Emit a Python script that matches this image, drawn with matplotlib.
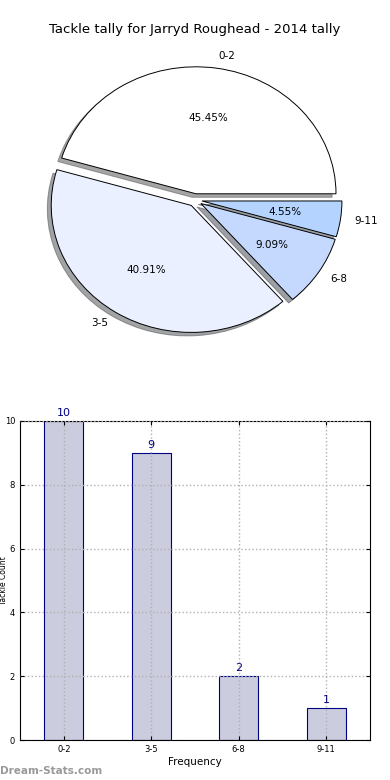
import matplotlib
matplotlib.use("Agg")
import matplotlib.pyplot as plt

labels = ["0-2", "3-5", "6-8", "9-11"]
counts = [10, 9, 2, 1]
pie_colors = ["#ffffff", "#eaf0ff", "#c5d9ff", "#b4d4ff"]

fig = plt.figure(figsize=(3.9, 7.8), dpi=100)

# pie (old-style, not equal aspect)
ax1 = fig.add_axes([20/390, 0.54, 350/390, 0.407])
wedges, texts, autotexts = ax1.pie(counts, labels=labels, colors=pie_colors,
                                   explode=[0.05]*4, shadow=True, autopct="%1.2f%%",
                                   wedgeprops=dict(edgecolor="black", linewidth=0.7),
                                   textprops=dict(fontsize=7.5))
ax1.set_aspect("auto")
ax1.set_xlim(-1.25, 1.25)
ax1.set_ylim(-1.25, 1.25)
ax1.set_title("Tackle tally for Jarryd Roughead - 2014 tally", fontsize=9.5)

# bar chart
ax2 = fig.add_axes([20/390, 40/780, 350/390, 319/780])
x = range(len(labels))
ax2.bar(x, counts, width=0.45, color="#ccccdf", edgecolor="#000080", linewidth=0.8, zorder=2)
for xi, c in zip(x, counts):
    ax2.text(xi, c + 0.1, str(c), ha="center", va="bottom", color="#000080", fontsize=8)
ax2.set_xlim(-0.5, 3.5)
ax2.set_ylim(0, 10)
ax2.set_xticks(list(x))
ax2.set_xticklabels(labels)
ax2.set_yticks([0, 2, 4, 6, 8, 10])
ax2.tick_params(labelsize=6, direction="in", top=True, right=True, length=3)
ax2.grid(True, linestyle=":", color="#b0b0b0", linewidth=1, zorder=3)
ax2.set_axisbelow(False)
ax2.set_xlabel("Frequency", fontsize=7.5, labelpad=2)
ax2.set_ylabel("Tackle Count", fontsize=5.5)
ax2.yaxis.set_label_coords(-0.035, 0.5)

fig.text(0.0, 9/780, "Dream-Stats.com", fontsize=7.5, color="#999999", fontweight="bold", ha="left", va="center")

fig.savefig("out.png", dpi=100)
